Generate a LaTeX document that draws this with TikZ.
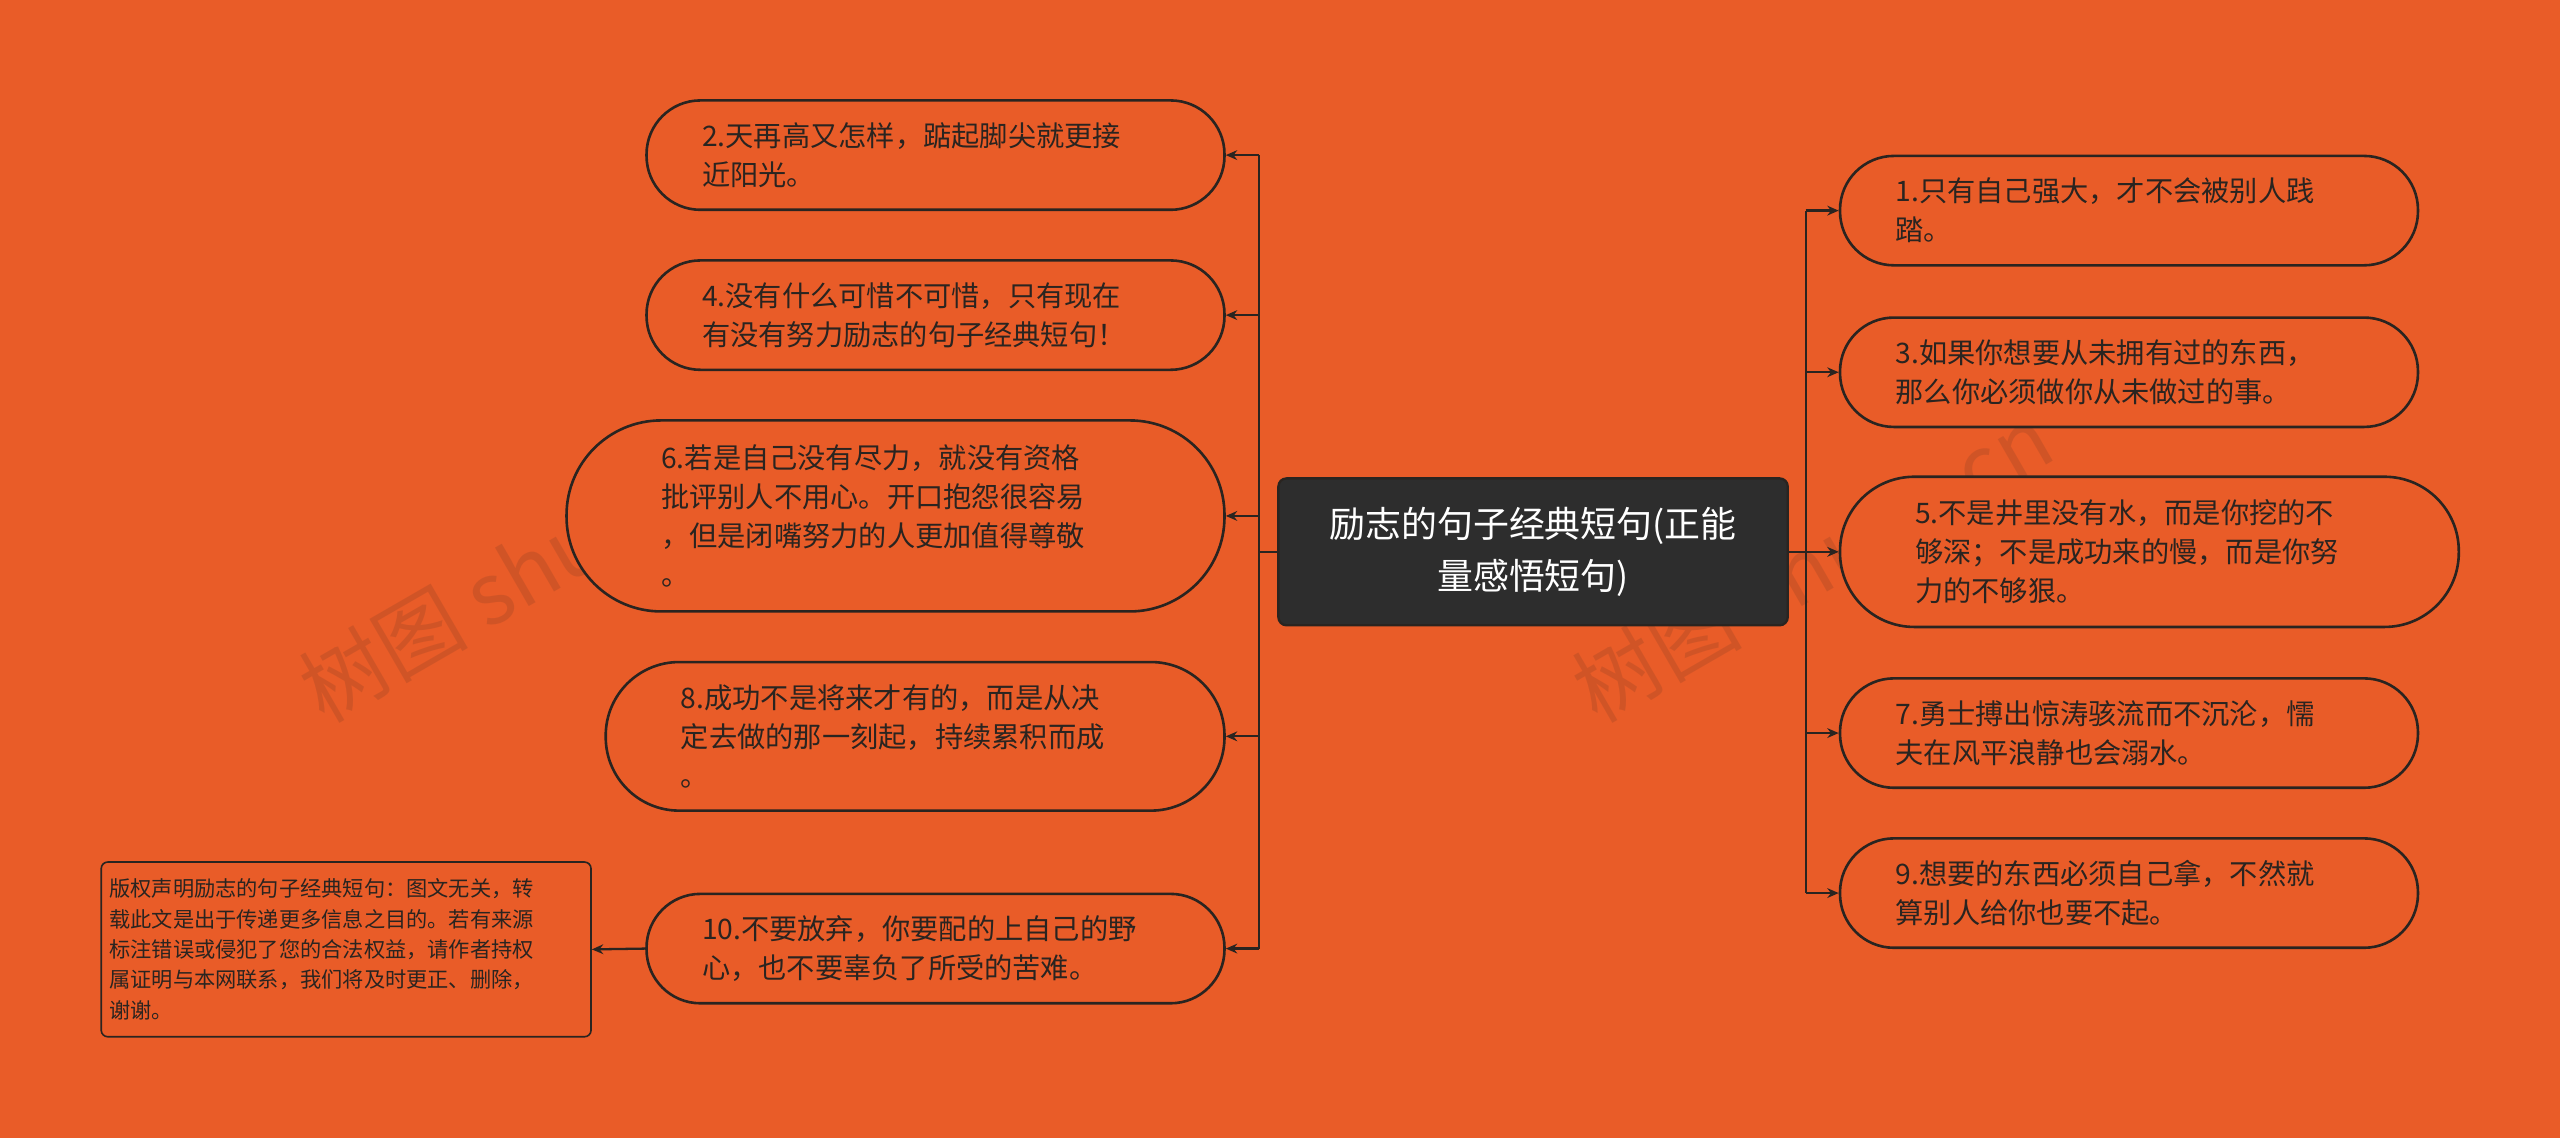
\documentclass[tikz,border=0pt]{standalone}
\usepackage{fontspec}
\setmainfont{Noto Sans CJK SC}
\usetikzlibrary{arrows.meta}
\definecolor{bg}{HTML}{E95C28}
\definecolor{ink}{HTML}{2A2420}
\definecolor{dark}{HTML}{2D2D2D}
\tikzset{
 leaf/.style={draw=ink,line width=1.6pt,fill=bg,align=left,inner sep=0pt,font=\fontsize{17.3}{24}\selectfont,text=ink},
 conn/.style={draw=ink,line width=1.4pt,-{Stealth[length=7pt,width=6pt]}},
 trunk/.style={draw=ink,line width=1.4pt}
}
\newcommand{\leafnode}[7]{% name, cx, cy, w, h, textwidth, text
 \node[leaf,minimum width=#4pt,minimum height=#5pt,rounded corners=#5pt*0.5-0.5pt,text width=#6pt] (#1) at (#2,#3) {#7};}
\begin{document}
\begin{tikzpicture}[x=1pt,y=-1pt]
\fill[bg] (0,0) rectangle (1568,697);
\useasboundingbox (0,0) rectangle (1568,697);
\foreach \p in {(330,345),(1110,345)}
 \node[rotate=30,text=ink,opacity=0.13,font=\fontsize{52}{52}\selectfont] at \p {树图 shutu.cn};
\node[fill=dark,draw=ink,line width=1.4pt,rounded corners=5pt,minimum width=312pt,minimum height=90pt,text=white,align=center,font=\fontsize{22}{32}\selectfont] (c) at (939,338) {励志的句子经典短句(正能\\量感悟短句)};
\leafnode{n2}{573}{95}{354}{67}{286}{2.天再高又怎样，踮起脚尖就更接\\近阳光。}
\leafnode{n4}{573}{193}{354}{67}{286}{4.没有什么可惜不可惜，只有现在\\有没有努力励志的句子经典短句！}
\leafnode{n6}{548.5}{316}{403}{117}{287}{6.若是自己没有尽力，就没有资格\\批评别人不用心。开口抱怨很容易\\，但是闭嘴努力的人更加值得尊敬\\。}
\leafnode{n8}{560.5}{451}{379}{91}{287}{8.成功不是将来才有的，而是从决\\定去做的那一刻起，持续累积而成\\。}
\leafnode{n10}{573}{581}{354}{67}{286}{10.不要放弃，你要配的上自己的野\\心，也不要辜负了所受的苦难。}
\leafnode{n1}{1304}{129}{354}{67}{286}{1.只有自己强大，才不会被别人践\\踏。}
\leafnode{n3}{1304}{228}{354}{67}{286}{3.如果你想要从未拥有过的东西，\\那么你必须做你从未做过的事。}
\leafnode{n5}{1316.5}{338}{379}{92}{287}{5.不是井里没有水，而是你挖的不\\够深；不是成功来的慢，而是你努\\力的不够狠。}
\leafnode{n7}{1304}{449}{354}{67}{286}{7.勇士搏出惊涛骇流而不沉沦，懦\\夫在风平浪静也会溺水。}
\leafnode{n9}{1304}{547}{354}{67}{286}{9.想要的东西必须自己拿，不然就\\算别人给你也要不起。}
\node[draw=ink,line width=1pt,fill=bg,rounded corners=4pt,minimum width=300pt,minimum height=107pt,text width=290pt,align=left,inner sep=0pt,text=ink,font=\fontsize{13}{18.6}\selectfont] (note) at (212,581.5) {版权声明励志的句子经典短句：图文无关，转\\载此文是出于传递更多信息之目的。若有来源\\标注错误或侵犯了您的合法权益，请作者持权\\属证明与本网联系，我们将及时更正、删除，\\谢谢。};
\coordinate (L) at (771,338);
\coordinate (R) at (1106,338);
\draw[trunk] (c.west) -- (L);
\draw[trunk] (c.east) -- (R);
\draw[trunk] (771,95) -- (771,581);
\draw[trunk] (1106,129) -- (1106,547);
\foreach \n in {n2,n4,n6,n8,n10} \draw[conn] (771,0 |- \n.east) -- (\n.east);
\foreach \n in {n1,n3,n5,n7,n9} \draw[conn] (1106,0 |- \n.west) -- (\n.west);
\draw[conn] (n10.west) -- (note.east);
\end{tikzpicture}
\end{document}
